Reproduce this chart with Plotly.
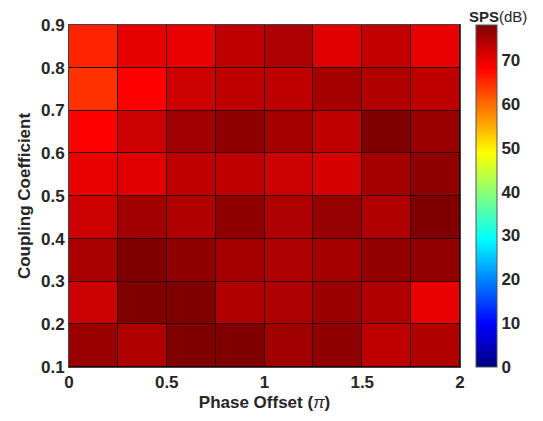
import plotly.graph_objects as go

# Cell edges (phase offset in units of pi, coupling coefficient)
x_edges = [0, 0.25, 0.5, 0.75, 1.0, 1.25, 1.5, 1.75, 2.0]
y_edges = [0.1, 0.2, 0.3, 0.4, 0.5, 0.6, 0.7, 0.8, 0.9]

# SPS (dB) values, rows from bottom (0.1-0.2) to top (0.8-0.9)
row_01 = [76.0, 74.2, 78.0, 78.0, 75.5, 76.7, 73.2, 74.2]
row_02 = [72.1, 78.0, 78.0, 74.2, 74.4, 76.0, 74.2, 69.8]
row_03 = [74.8, 78.0, 76.7, 75.2, 74.4, 75.2, 76.5, 76.5]
row_04 = [72.1, 75.5, 74.2, 76.7, 74.4, 76.3, 74.2, 78.0]
row_05 = [69.8, 70.6, 73.2, 73.2, 72.1, 71.3, 75.2, 76.7]
row_06 = [68.25, 72.1, 75.5, 76.7, 75.2, 73.2, 78.0, 76.0]
row_07 = [64.4, 68.25, 72.1, 73.2, 73.2, 75.2, 74.2, 73.2]
row_08 = [65.6, 70.2, 69.8, 73.2, 74.4, 70.6, 72.9, 69.8]
z_values = [row_01, row_02, row_03, row_04, row_05, row_06, row_07, row_08]

x_ticks = [0, 0.5, 1, 1.5, 2]
x_tick_labels = ["0", "0.5", "1", "1.5", "2"]
y_ticks = [0.1, 0.2, 0.3, 0.4, 0.5, 0.6, 0.7, 0.8, 0.9]
cbar_ticks = [0, 10, 20, 30, 40, 50, 60, 70]

jet = [
    [0.0, "rgb(0,0,128)"],
    [0.125, "rgb(0,0,255)"],
    [0.375, "rgb(0,255,255)"],
    [0.625, "rgb(255,255,0)"],
    [0.875, "rgb(255,0,0)"],
    [1.0, "rgb(128,0,0)"],
]

FONT = "Liberation Sans, Arial, sans-serif"
TXT = "#262626"

fig = go.Figure(
    go.Heatmap(
        x=x_edges,
        y=y_edges,
        z=z_values,
        zmin=0,
        zmax=78,
        colorscale=jet,
        xgap=1,
        ygap=1,
        colorbar=dict(
            tickvals=cbar_ticks,
            ticktext=[f"<b>{v}</b>" for v in cbar_ticks],
            tickfont=dict(family=FONT, size=17, color=TXT),
            thickness=21,
            thicknessmode="pixels",
            len=1,
            lenmode="fraction",
            x=1.041,
            xanchor="left",
            y=0,
            yanchor="bottom",
            ypad=0,
            xpad=0,
            outlinewidth=1,
            outlinecolor="#555555",
            ticks="",
        ),
    )
)

# The page body has an 8px default margin, so the figure is sized/offset to compensate
fig.update_layout(
    width=535,
    height=413,
    margin=dict(l=61, r=83, t=17, b=54, autoexpand=False),
    paper_bgcolor="white",
    plot_bgcolor="#2a0000",
    font=dict(family=FONT, color=TXT),
    xaxis=dict(
        range=[0, 2],
        tickvals=x_ticks,
        ticktext=[f"<b>{v}</b>" for v in x_tick_labels],
        tickfont=dict(size=17, color=TXT),
        showgrid=False,
        zeroline=False,
        showline=True,
        mirror=True,
        linecolor="#444444",
        linewidth=1,
        ticks="",
        automargin=False,
        title=dict(text="<b>Phase Offset (</b><i>π</i><b>)</b>", font=dict(size=17, color=TXT), standoff=4),
    ),
    yaxis=dict(
        range=[0.1, 0.9],
        tickvals=y_ticks,
        ticktext=[f"<b>{v}</b>" for v in y_ticks],
        tickfont=dict(size=17, color=TXT),
        showgrid=False,
        zeroline=False,
        showline=True,
        mirror=True,
        linecolor="#444444",
        linewidth=1,
        ticks="",
        automargin=False,
        title=dict(text="<b>Coupling Coefficient</b>", font=dict(size=17, color=TXT), standoff=6),
    ),
    annotations=[
        dict(
            text="<b>SPS</b>(dB)",
            xref="paper",
            yref="paper",
            x=1.096,
            y=1.026,
            xanchor="center",
            yanchor="middle",
            showarrow=False,
            borderpad=0,
            font=dict(family=FONT, size=15, color=TXT),
        )
    ],
)

fig.write_html("out.html")
